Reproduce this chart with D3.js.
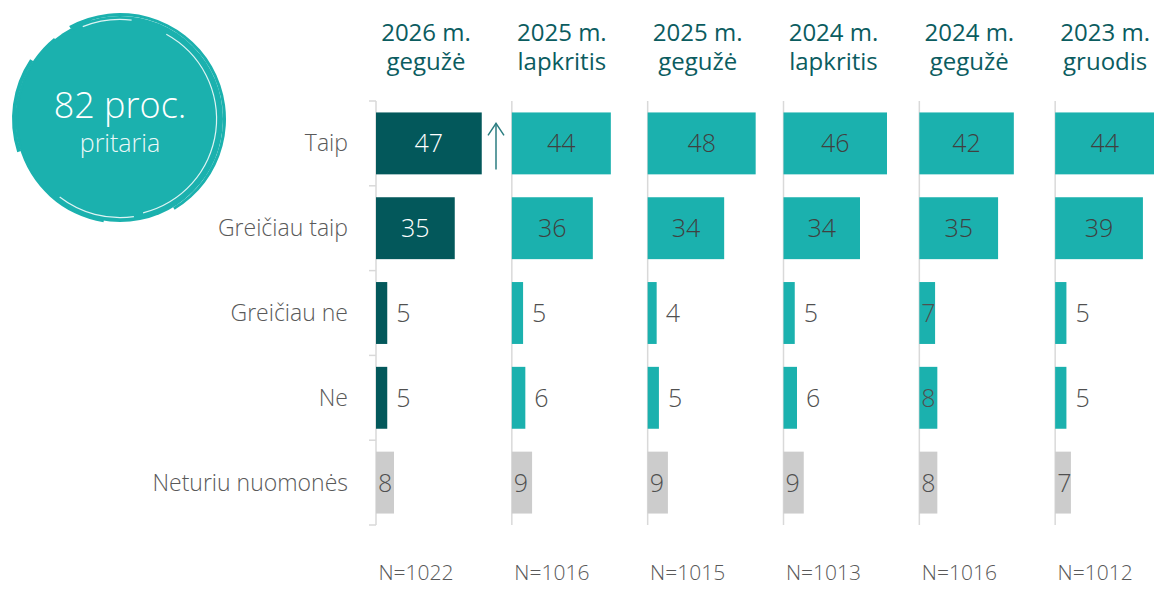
<!DOCTYPE html>
<html>
<head>
<meta charset="utf-8">
<script src="https://cdn.jsdelivr.net/npm/d3@7"></script>
<style>
  body { margin: 0; background: #fff; }
  svg { display: block; font-family: 'Open Sans', 'Noto Sans', sans-serif; }
</style>
</head>
<body>
<svg id="chart" width="1154" height="590"></svg>
<script>
const categories = ['Taip', 'Greičiau taip', 'Greičiau ne', 'Ne', 'Neturiu nuomonės']
const surveyYears = ['2026 m.', '2025 m.', '2025 m.', '2024 m.', '2024 m.', '2023 m.']
const surveyMonths = ['gegužė', 'lapkritis', 'gegužė', 'lapkritis', 'gegužė', 'gruodis']
const sampleSizes = [1022, 1016, 1015, 1013, 1016, 1012]
const values = [
    [47, 35, 5, 5, 8],
    [44, 36, 5, 6, 9],
    [48, 34, 4, 5, 9],
    [46, 34, 5, 6, 9],
    [42, 35, 7, 8, 8],
    [44, 39, 5, 5, 7]
]
const supportTotal = 82

const DARK = '#03585b'
const TEAL = '#1bb1ae'
const GREY = '#cccccc'
const AXIS = '#d9d9d9'

const svg = d3.select('#chart')

const y = d3.scaleBand().domain(categories).range([101, 525])
    .paddingInner(0.27).paddingOuter(0.135)
const panel = d3.scaleBand().domain(d3.range(values.length)).range([376, 1191])
const x = d3.scaleLinear().domain([0, 100]).range([0, 225])

// row labels
svg.append('g').selectAll('text')
    .data(categories)
    .enter().append('text')
    .attr('x', 348)
    .attr('y', (d) => y(d) + y.bandwidth() / 2)
    .attr('dy', '0.35em')
    .attr('text-anchor', 'end')
    .attr('font-size', 23)
    .attr('font-weight', 300)
    .attr('fill', '#595959')
    .text((d) => d)

// first panel axis with ticks on the band edges
const edges = d3.range(categories.length + 1).map((i) => 101 + i * y.step())
const ax = svg.append('g')
ax.append('line')
    .attr('x1', 376).attr('x2', 376).attr('y1', 101).attr('y2', 525)
    .attr('stroke', AXIS).attr('stroke-width', 1.5)
ax.selectAll('.tick')
    .data(edges)
    .enter().append('line')
    .attr('class', 'tick')
    .attr('x1', 369).attr('x2', 376)
    .attr('y1', (d) => d).attr('y2', (d) => d)
    .attr('stroke', AXIS).attr('stroke-width', 1.5)

values.forEach((series, p) => {
    const g = svg.append('g').attr('transform', `translate(${panel(p)},0)`)
    const cx = 50

    if (p > 0) {
        g.append('line')
            .attr('x1', 0).attr('x2', 0).attr('y1', 101).attr('y2', 525)
            .attr('stroke', AXIS).attr('stroke-width', 1.5)
    }

    g.append('text')
        .attr('x', cx).attr('y', 41)
        .attr('text-anchor', 'middle')
        .attr('font-size', 24)
        .attr('fill', '#0b5c5f')
        .text(surveyYears[p])
    g.append('text')
        .attr('x', cx).attr('y', 70)
        .attr('text-anchor', 'middle')
        .attr('font-size', 24)
        .attr('fill', '#0b5c5f')
        .text(surveyMonths[p])

    const rows = series.map((v, i) => ({v: v, cat: categories[i], i: i}))
    const fill = (d) => d.i === 4 ? GREY : (p === 0 ? DARK : TEAL)

    g.selectAll('.bar')
        .data(rows)
        .enter().append('rect')
        .attr('class', 'bar')
        .attr('x', 0)
        .attr('y', (d) => y(d.cat))
        .attr('width', (d) => x(d.v))
        .attr('height', y.bandwidth())
        .attr('fill', fill)

    g.selectAll('.val')
        .data(rows)
        .enter().append('text')
        .attr('class', 'val')
        .attr('x', (d) => d.v >= 20 ? x(d.v) / 2 : (d.v >= 7 ? 2 : x(d.v) + 9))
        .attr('y', (d) => y(d.cat) + y.bandwidth() / 2)
        .attr('dy', '0.36em')
        .attr('text-anchor', (d) => d.v >= 20 ? 'middle' : 'start')
        .attr('font-size', 25)
        .attr('font-weight', 300)
        .attr('fill', (d) => d.v >= 20 ? (p === 0 ? '#ffffff' : '#404040') : '#505050')
        .text((d) => d.v)

    g.append('text')
        .attr('x', 40)
        .attr('y', 580)
        .attr('text-anchor', 'middle')
        .attr('font-size', 21)
        .attr('font-weight', 300)
        .attr('fill', '#595959')
        .text('N=' + sampleSizes[p])
})

// up arrow next to the first "Taip" bar
const arrow = svg.append('g').attr('stroke', '#2b7d80').attr('stroke-width', 1.5).attr('fill', 'none')
const ay = y('Taip')
arrow.append('line').attr('x1', 496).attr('x2', 496).attr('y1', ay + 57).attr('y2', ay + 11)
arrow.append('path').attr('d', `M488,${ay + 23}L496,${ay + 11}L504,${ay + 23}`)

// circle badge
const badge = svg.append('g').attr('transform', 'translate(120,119)')
badge.append('circle').attr('r', 103).attr('fill', TEAL)
const arc = d3.arc()
const rings = [
    {inner: 103, outer: 106, start: -0.5, end: 2.6},
    {inner: 102, outer: 104.5, start: 3.3, end: 5.6},
    {inner: 104, outer: 108, start: 4.4, end: 5.3},
    {inner: 100, outer: 105, start: 5.8, end: 6.0}
]
badge.selectAll('.ring')
    .data(rings)
    .enter().append('path')
    .attr('d', (d) => arc({innerRadius: d.inner, outerRadius: d.outer, startAngle: d.start, endAngle: d.end}))
    .attr('fill', TEAL)
const gaps = [
    {r: 96, start: 0.5, end: 2.9},
    {r: 98, start: 3.0, end: 3.8},
    {r: 99, start: 5.9, end: 6.4}
]
badge.selectAll('.gap')
    .data(gaps)
    .enter().append('path')
    .attr('d', (d) => arc({innerRadius: d.r, outerRadius: d.r + 1.2, startAngle: d.start, endAngle: d.end}))
    .attr('fill', '#ffffff')
    .attr('opacity', 0.85)
badge.append('text')
    .attr('y', -1)
    .attr('text-anchor', 'middle')
    .attr('font-size', 36)
    .attr('font-weight', 300)
    .attr('fill', '#ffffff')
    .text(supportTotal + ' proc.')
badge.append('text')
    .attr('y', 33)
    .attr('text-anchor', 'middle')
    .attr('font-size', 25)
    .attr('font-weight', 300)
    .attr('fill', '#ffffff')
    .attr('opacity', 0.92)
    .text('pritaria')
</script>
</body>
</html>
